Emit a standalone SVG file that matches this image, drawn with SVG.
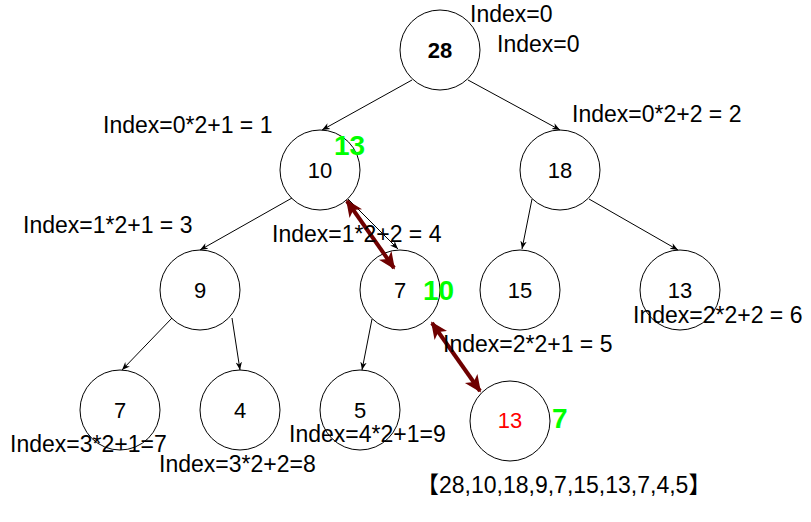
<svg xmlns="http://www.w3.org/2000/svg" width="811" height="522" viewBox="0 0 811 522">
<style>
.c{fill:#fff;stroke:#000;stroke-width:1}
.t{font-family:"Liberation Sans",Arial,sans-serif;font-size:22px;fill:#000;text-anchor:middle}
.lbl{font-family:"Liberation Sans",Arial,sans-serif;font-size:23px;fill:#000}
.g{font-family:"Liberation Sans",Arial,sans-serif;font-size:28px;font-weight:bold;fill:#00FF00}
.e{stroke:#000;stroke-width:1;fill:none;marker-end:url(#arr)}
.d{stroke:#6F0000;stroke-width:4;fill:none;marker-start:url(#darr);marker-end:url(#darr)}
</style>
<defs>
<marker id="arr" viewBox="0 0 10 10" refX="10" refY="5" markerWidth="8" markerHeight="8" markerUnits="userSpaceOnUse" orient="auto"><path d="M0,1 L10,5 L0,9 L3,5 z" fill="#000"/></marker>
<marker id="darr" viewBox="0 0 10 10" refX="9" refY="5" markerWidth="17" markerHeight="17" markerUnits="userSpaceOnUse" orient="auto-start-reverse"><path d="M0,0.5 L10,5 L0,9.5 L2.5,5 z" fill="#6F0000"/></marker>
</defs>
<g id="n28"><circle class="c" cx="440" cy="50" r="40"/><text class="t" x="440" y="58" font-weight="bold">28</text></g>
<g id="n10"><circle class="c" cx="320" cy="170" r="40"/><text class="t" x="320" y="178">10</text></g>
<g id="n18"><circle class="c" cx="560" cy="170" r="40"/><text class="t" x="560" y="178">18</text></g>
<g id="n9"><circle class="c" cx="200" cy="290" r="40"/><text class="t" x="200" y="298">9</text></g>
<g id="n7a"><circle class="c" cx="400" cy="290" r="40"/><text class="t" x="400" y="298">7</text></g>
<g id="n15"><circle class="c" cx="520" cy="290" r="40"/><text class="t" x="520" y="298">15</text></g>
<g id="n13a"><circle class="c" cx="680" cy="290" r="40"/><text class="t" x="680" y="298">13</text></g>
<g id="n7b"><circle class="c" cx="120" cy="410" r="40"/><text class="t" x="120" y="418">7</text></g>
<g id="n4"><circle class="c" cx="240" cy="410" r="40"/><text class="t" x="240" y="418">4</text></g>
<g id="n5"><circle class="c" cx="360" cy="410" r="40"/><text class="t" x="360" y="418">5</text></g>
<g id="n13b"><circle class="c" cx="510" cy="421" r="40"/><text class="t" x="510" y="428" style="fill:#FF0000">13</text></g>
<g id="connectors">
<line class="e" x1="412" y1="80" x2="322" y2="130"/>
<line class="e" x1="468" y1="80" x2="560" y2="130"/>
<line class="e" x1="292" y1="198" x2="200" y2="250"/>
<line class="e" x1="348" y1="199" x2="398" y2="249"/>
<line class="e" x1="532" y1="199" x2="522" y2="249"/>
<line class="e" x1="589" y1="199" x2="678" y2="250"/>
<line class="e" x1="172" y1="318" x2="122" y2="370"/>
<line class="e" x1="232" y1="318" x2="240" y2="370"/>
<line class="e" x1="372" y1="319" x2="362" y2="370"/>
<line class="d" x1="347" y1="201" x2="394" y2="268"/>
<line class="d" x1="432" y1="323" x2="480" y2="391"/>
</g>
<g id="labels">
<text class="lbl" x="470" y="22">Index=0</text>
<text class="lbl" x="497" y="52">Index=0</text>
<text class="lbl" x="103" y="133">Index=0*2+1 = 1</text>
<text class="lbl" x="572" y="122">Index=0*2+2 = 2</text>
<text class="lbl" x="23" y="233">Index=1*2+1 = 3</text>
<text class="lbl" x="272" y="242">Index=1*2+2 = 4</text>
<text class="lbl" x="443" y="352">Index=2*2+1 = 5</text>
<text class="lbl" x="633" y="323">Index=2*2+2 = 6</text>
<text class="lbl" x="10" y="452">Index=3*2+1=7</text>
<text class="lbl" x="159" y="472">Index=3*2+2=8</text>
<text class="lbl" x="289" y="442">Index=4*2+1=9</text>
<text class="lbl" x="416" y="493" style="font-family:'Liberation Sans','Noto Sans CJK SC',sans-serif;font-size:23px">【28,10,18,9,7,15,13,7,4,5】</text>
<text class="g" x="334" y="155">13</text>
<text class="g" x="423" y="300">10</text>
<text class="g" x="552" y="428">7</text>
</g>
</svg>
